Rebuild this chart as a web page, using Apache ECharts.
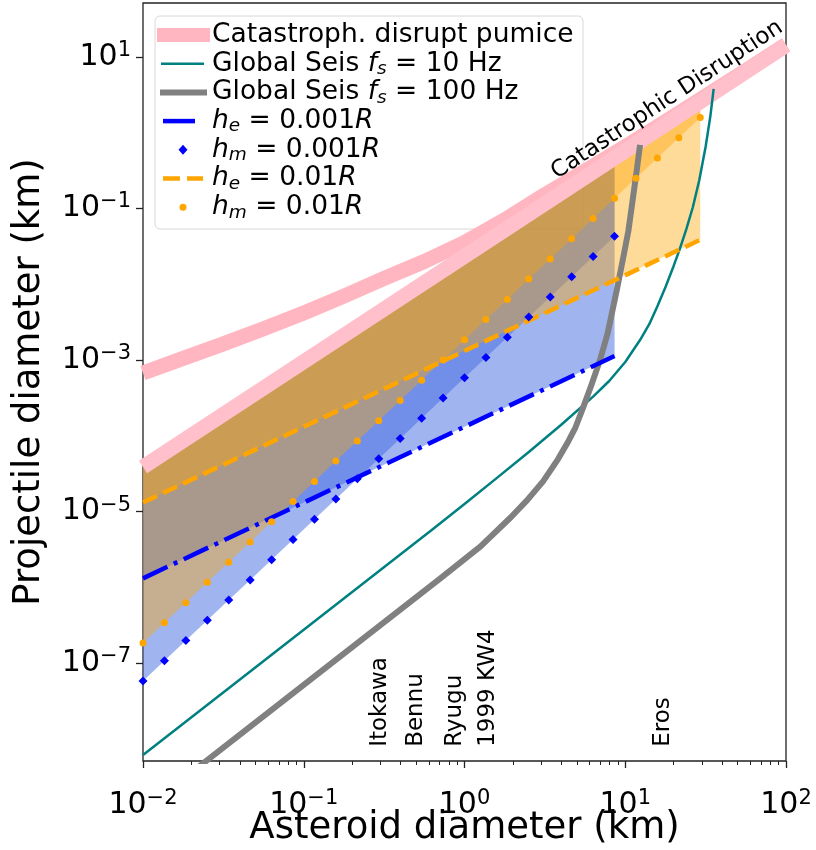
<!DOCTYPE html>
<html><head><meta charset="utf-8">
<script src="https://cdn.jsdelivr.net/npm/echarts@6/dist/echarts.min.js"></script>
<style>html,body{margin:0;padding:0;background:#fff}#c{width:816px;height:850px}</style>
</head><body><div id="c"></div>
<script>
// ---------- data ----------
const xMin = 0.01, xMax = 100;
const yMin = 5.14e-9, yMax = 51.4;
const xMajorTicks = [0.01, 0.1, 1, 10, 100];
const xMinorTicks = [0.02,0.03,0.04,0.05,0.06,0.07,0.08,0.09,0.2,0.3,0.4,0.5,0.6,0.7,0.8,0.9,2,3,4,5,6,7,8,9,20,30,40,50,60,70,80,90];
const yMajorTicks = [1e-7, 1e-5, 1e-3, 1e-1, 10];

// asteroid-diameter grid used by the h_m marker series
const xGrid = [0.01, 0.01359, 0.01848, 0.02512, 0.03415, 0.04642, 0.0631, 0.08577, 0.1166, 0.1585, 0.2154, 0.2929, 0.3981, 0.5412, 0.7356, 1.0, 1.359, 1.848, 2.512, 3.415, 4.642, 6.31, 8.577, 11.66, 15.85, 21.54, 29.29];
// h_m = 0.001R (blue diamonds)
const hmMilliY = [5.85e-8, 1.08e-7, 2.00e-7, 3.69e-7, 6.82e-7, 1.26e-6, 2.33e-6, 4.31e-6, 7.94e-6, 1.47e-5, 2.72e-5, 5.01e-5, 9.27e-5, 1.71e-4, 3.16e-4, 5.85e-4, 1.08e-3, 2.00e-3, 3.69e-3, 6.82e-3, 1.26e-2, 2.33e-2, 4.31e-2];
// h_m = 0.01R (orange dots)
const hmCentiY = [1.85e-7, 3.42e-7, 6.31e-7, 1.17e-6, 2.16e-6, 3.98e-6, 7.36e-6, 1.36e-5, 2.51e-5, 4.65e-5, 8.59e-5, 1.58e-4, 2.93e-4, 5.42e-4, 1.00e-3, 1.85e-3, 3.42e-3, 6.31e-3, 1.17e-2, 2.16e-2, 3.98e-2, 7.36e-2, 0.136, 0.251, 0.465, 0.859, 1.585];
// h_e = 0.001R (blue dash-dot)
const heMilliX = [0.01, 8.577];
const heMilliY = [1.32e-6, 1.13e-3];
// h_e = 0.01R (orange dashed)
const heCentiX = [0.01, 29.29];
const heCentiY = [1.32e-5, 3.86e-2];
// catastrophic disruption, pumice (lower pink line, also top of shaded regions)
const pumiceX = [0.01, 8.577, 29.29, 100];
const pumiceY = [3.89e-5, 0.465, 2.56, 14.1];
// catastrophic disruption (upper pink curve)
const disruptX = [0.01, 0.01778, 0.03162, 0.05623, 0.1, 0.1778, 0.3162, 0.5623, 1.0, 1.778, 3.162, 5.623, 10, 17.78, 31.62, 56.23, 100];
const disruptY = [6.75e-4, 1.052e-3, 1.637e-3, 2.594e-3, 4.19e-3, 6.97e-3, 1.197e-2, 2.00e-2, 3.55e-2, 7.08e-2, 0.1524, 0.3126, 0.656, 1.403, 3.034, 6.62, 14.52];
// global seismic shaking, f_s = 10 Hz
const seis10X = [0.01, 0.1, 0.631, 1.0, 1.585, 2.512, 3.981, 6.310, 7.943, 10, 12.36, 14.13, 15.85, 17.78, 19.95, 21.88, 23.99, 26.30, 28.84, 31.62, 33.88, 35.48];
const seis10Y = [6.17e-9, 2.77e-7, 5.82e-6, 1.26e-5, 2.77e-5, 6.12e-5, 1.39e-4, 3.30e-4, 5.30e-4, 9.42e-4, 1.84e-3, 3.00e-3, 5.13e-3, 9.16e-3, 1.72e-2, 2.96e-2, 5.33e-2, 0.103, 0.234, 0.653, 1.68, 3.78];
// global seismic shaking, f_s = 100 Hz
const seis100X = [0.01995, 0.1, 0.7047, 1.259, 1.95, 2.455, 3.09, 3.82, 4.365, 4.898, 5.483, 6.166, 6.966, 7.762, 8.851, 9.772, 10.45, 11.09, 11.75, 12.36];
const seis100Y = [3.61e-9, 5.19e-8, 1.31e-6, 3.49e-6, 8.51e-6, 1.42e-5, 2.53e-5, 4.94e-5, 8.05e-5, 1.29e-4, 2.40e-4, 4.72e-4, 1.0e-3, 2.24e-3, 8.32e-3, 2.40e-2, 5.01e-2, 0.124, 0.302, 0.689];
// asteroid annotations
const asteroidNames = ['Itokawa', 'Bennu', 'Ryugu', '1999 KW4', 'Eros'];
const asteroidX = [0.298, 0.499, 0.873, 1.40, 17.2];
const asteroidLabelY = 7.9e-9;
const disruptLabel = {text: 'Catastrophic Disruption', x: 18.2, y: 2.70};

// ---------- chart ----------
const FONT = 'DejaVu Sans';
const pair = (xs, ys) => ys.map((y, i) => [xs[i], y]);
const BLUE_FILL = 'rgba(65,105,225,0.5)';
const ORANGE_FILL = 'rgba(255,165,0,0.4)';

const fillPolys = [
  {pts: pair(xGrid, hmMilliY).concat([[pumiceX[1], pumiceY[1]], [pumiceX[0], pumiceY[0]]]), color: BLUE_FILL},
  {pts: pair(heMilliX, heMilliY).concat([[pumiceX[1], pumiceY[1]], [pumiceX[0], pumiceY[0]]]), color: BLUE_FILL},
  {pts: pair(xGrid, hmCentiY).concat([[pumiceX[2], pumiceY[2]], [pumiceX[0], pumiceY[0]]]), color: ORANGE_FILL},
  {pts: pair(heCentiX, heCentiY).concat([[pumiceX[2], pumiceY[2]], [pumiceX[0], pumiceY[0]]]), color: ORANGE_FILL}
];

const textMarks = asteroidNames.map((n, i) => ({text: n, x: asteroidX[i], y: asteroidLabelY, rot: 90, align: 'left'}))
  .concat([{text: disruptLabel.text, x: disruptLabel.x, y: disruptLabel.y, rot: 33.2, align: 'center'}]);

const tickRich = {
  b: {fontSize: 30, fontFamily: FONT, color: '#000', lineHeight: 34},
  s: {fontSize: 21, fontFamily: FONT, color: '#000', lineHeight: 14, verticalAlign: 'top'}
};
const powLabel = v => {
  const e = Math.round(Math.log10(v));
  return '{b|10}{s|' + (e < 0 ? '\u2212' + (-e) : String(e)) + '}';
};

const legRich = {
  i: {fontSize: 26.5, fontFamily: FONT, fontStyle: 'italic', fill: '#000', color: '#000', lineHeight: 30},
  sub: {fontSize: 18.5, fontFamily: FONT, fontStyle: 'italic', fill: '#000', color: '#000', lineHeight: 12, verticalAlign: 'bottom'}
};
const legendRows = [
  'Catastroph. disrupt pumice',
  'Global Seis {i|f}{sub|s} = 10 Hz',
  'Global Seis {i|f}{sub|s} = 100 Hz',
  '{i|h}{sub|e} = 0.001{i|R}',
  '{i|h}{sub|m} = 0.001{i|R}',
  '{i|h}{sub|e} = 0.01{i|R}',
  '{i|h}{sub|m} = 0.01{i|R}'
];
const legTop = 35, legStep = 28.7;
const rowY = k => legTop + k * legStep;

const graphics = [
  {type: 'rect', z: 0, shape: {x: 155, y: 16, width: 428, height: 213, r: 5}, style: {fill: 'rgba(255,255,255,0.8)', stroke: '#d8d8d8', lineWidth: 1}},
  {type: 'line', z: 51, shape: {x1: 157, y1: rowY(0), x2: 210, y2: rowY(0)}, style: {stroke: '#FFB6C1', lineWidth: 14}},
  {type: 'line', z: 51, shape: {x1: 161, y1: rowY(1), x2: 204, y2: rowY(1)}, style: {stroke: '#008080', lineWidth: 2.5}},
  {type: 'line', z: 51, shape: {x1: 160, y1: rowY(2), x2: 207, y2: rowY(2)}, style: {stroke: '#808080', lineWidth: 6}},
  {type: 'line', z: 51, shape: {x1: 163, y1: rowY(3), x2: 195, y2: rowY(3)}, style: {stroke: '#0000FF', lineWidth: 4.5}},
  {type: 'polygon', z: 51, shape: {points: [[183, rowY(4) - 5], [187.5, rowY(4)], [183, rowY(4) + 5], [178.5, rowY(4)]]}, style: {fill: '#0000FF'}},
  {type: 'line', z: 51, shape: {x1: 163, y1: rowY(5), x2: 180, y2: rowY(5)}, style: {stroke: '#FFA500', lineWidth: 4.5}},
  {type: 'line', z: 51, shape: {x1: 187, y1: rowY(5), x2: 203, y2: rowY(5)}, style: {stroke: '#FFA500', lineWidth: 4.5}},
  {type: 'circle', z: 51, shape: {cx: 183, cy: rowY(6), r: 3.5}, style: {fill: '#FFA500'}}
];
legendRows.forEach((t, k) => {
  graphics.push({type: 'text', z: 52, x: 212, y: rowY(k), style: {text: t, fontSize: 26.5, fontFamily: FONT, fill: '#000', lineHeight: 30, verticalAlign: 'middle', align: 'left', rich: legRich}});
});

const lineSeries = (name, xs, ys, style, z) => ({
  type: 'line', name, data: pair(xs, ys), showSymbol: false, symbol: 'none', z, silent: true,
  clip: true, lineStyle: style, emphasis: {disabled: true}
});

const option = {
  animation: false,
  backgroundColor: '#fff',
  textStyle: {fontFamily: FONT},
  grid: {left: 143, right: 30, top: 3, bottom: 89, show: true, borderColor: '#222', borderWidth: 1.3, backgroundColor: 'transparent', containLabel: false, outerBoundsMode: 'none'},
  xAxis: [
    {type: 'log', logBase: 10, min: xMin, max: xMax, position: 'bottom',
     name: 'Asteroid diameter (km)', nameLocation: 'middle', nameGap: 49, nameMoveOverlap: false,
     nameTextStyle: {fontSize: 37, color: '#000', fontFamily: FONT},
     axisLine: {show: false}, splitLine: {show: false}, minorTick: {show: false},
     axisTick: {show: true, customValues: xMajorTicks, length: 7, lineStyle: {color: '#222', width: 1.3}},
     axisLabel: {customValues: xMajorTicks, margin: 27, formatter: powLabel, rich: tickRich, color: '#000'}},
    {type: 'log', logBase: 10, min: xMin, max: xMax, position: 'bottom', gridIndex: 0,
     axisLine: {show: false}, splitLine: {show: false}, axisLabel: {show: false},
     axisTick: {show: true, customValues: xMinorTicks, length: 4, lineStyle: {color: '#222', width: 1}}}
  ],
  yAxis: {type: 'log', logBase: 10, min: yMin, max: yMax,
    name: 'Projectile diameter (km)', nameLocation: 'middle', nameGap: 95, nameMoveOverlap: false,
    nameTextStyle: {fontSize: 37, color: '#000', fontFamily: FONT},
    axisLine: {show: false}, splitLine: {show: false}, minorTick: {show: false},
    axisTick: {show: true, customValues: yMajorTicks, length: 7, lineStyle: {color: '#222', width: 1.3}},
    axisLabel: {customValues: yMajorTicks, margin: 12, formatter: powLabel, rich: tickRich, color: '#000'}},
  graphic: graphics,
  series: [
    {type: 'custom', name: 'fills', z: 1, silent: true, clip: true,
     renderItem: (params, api) => {
       const p = fillPolys[params.dataIndex];
       return {type: 'polygon', shape: {points: p.pts.map(q => api.coord(q))}, style: {fill: p.color}};
     },
     encode: {x: 0, y: 1},
     data: fillPolys.map(p => p.pts[0])},
    lineSeries('Catastroph. disrupt pumice', disruptX, disruptY, {color: '#FFB6C1', width: 15, cap: 'butt', join: 'round'}, 2),
    lineSeries('Catastrophic Disruption', pumiceX, pumiceY, {color: '#FFC0CB', width: 15, cap: 'butt'}, 2),
    lineSeries('Global Seis fs = 10 Hz', seis10X, seis10Y, {color: '#008080', width: 2.5, join: 'round'}, 3),
    lineSeries('Global Seis fs = 100 Hz', seis100X, seis100Y, {color: '#808080', width: 6, join: 'round'}, 3),
    lineSeries('he = 0.001R', heMilliX, heMilliY, {color: '#0000FF', width: 4.5, type: [27, 7, 4, 7], cap: 'butt'}, 4),
    {type: 'scatter', name: 'hm = 0.001R', data: pair(xGrid, hmMilliY), symbol: 'diamond', symbolSize: 9, itemStyle: {color: '#0000FF', opacity: 1}, z: 5, silent: true},
    lineSeries('he = 0.01R', heCentiX, heCentiY, {color: '#FFA500', width: 4.5, type: [15.5, 6.7], cap: 'butt'}, 4),
    {type: 'scatter', name: 'hm = 0.01R', data: pair(xGrid, hmCentiY), symbol: 'circle', symbolSize: 7, itemStyle: {color: '#FFA500', opacity: 1}, z: 5, silent: true},
    {type: 'custom', name: 'annotations', z: 6, silent: true, clip: false,
     renderItem: (params, api) => {
       const d = textMarks[params.dataIndex];
       const p = api.coord([d.x, d.y]);
       return {type: 'text', x: p[0], y: p[1], rotation: d.rot * Math.PI / 180,
               style: {text: d.text, fill: '#000', fontSize: 23, fontFamily: FONT, align: d.align, verticalAlign: 'middle'}};
     },
     encode: {x: 0, y: 1},
     data: textMarks.map(d => [d.x, d.y])}
  ]
};
const chart = echarts.init(document.getElementById('c'));
chart.setOption(option);
</script>
</body></html>
